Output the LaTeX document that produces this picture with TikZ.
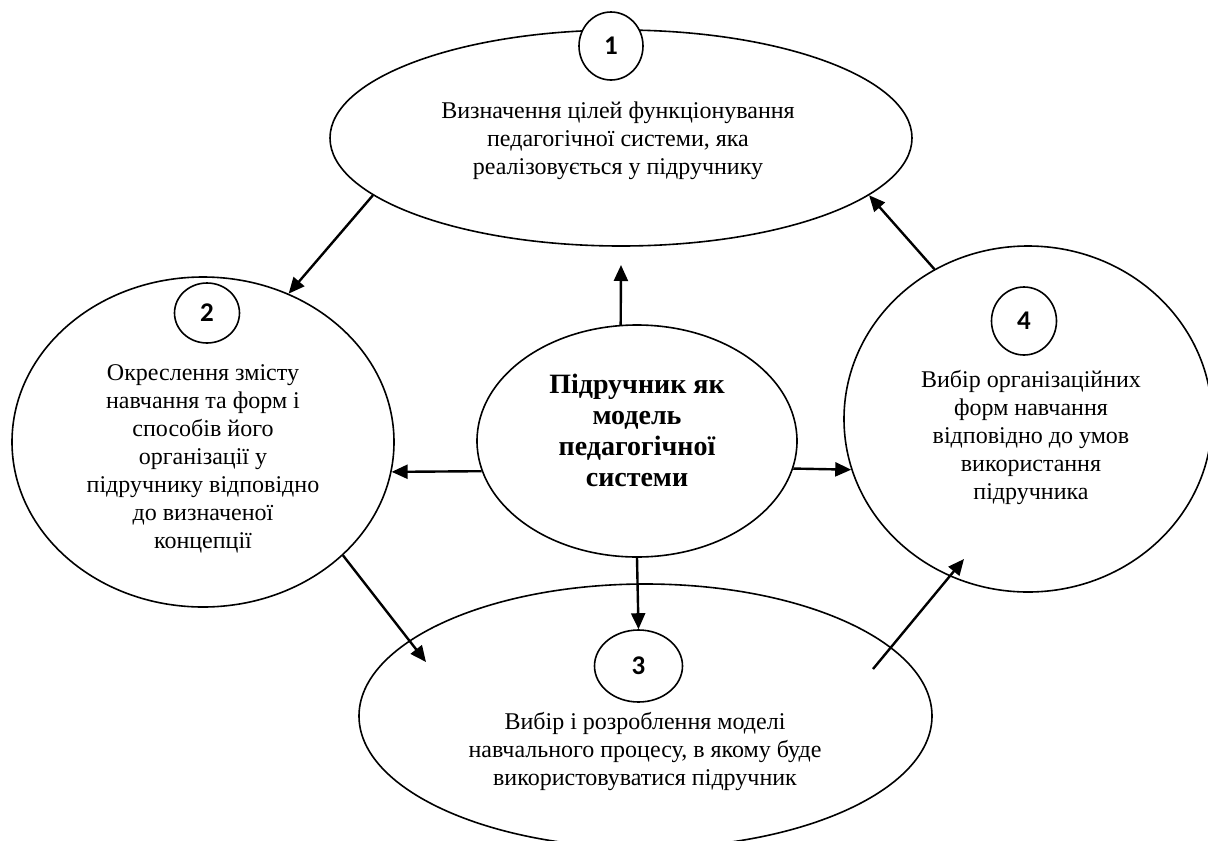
\documentclass[tikz,border=0pt]{standalone}
\usepackage{fontspec}
\setmainfont{Liberation Serif}
\newfontfamily\numfont{Carlito}
\usetikzlibrary{shapes.geometric,arrows.meta}
\begin{document}
\begin{tikzpicture}[x=1pt,y=-1pt,
  oval/.style={draw, ellipse, line width=1.6pt, inner sep=0pt},
  numoval/.style={draw, ellipse, fill=white, line width=1.6pt, inner sep=0pt, font=\numfont\bfseries\fontsize{27}{30}\selectfont},
  body/.style={align=center, font=\fontsize{24}{28}\selectfont, inner sep=0pt},
  conn/.style={line width=2.4pt, -{Triangle[length=16pt,width=14pt]}}]
\useasboundingbox (0,0) rectangle (1208,841);

\node[oval, minimum width=582pt, minimum height=216pt] (e1) at (621,138) {};
\node[oval, minimum width=382pt, minimum height=330pt] (e2) at (203,442) {};
\node[oval, minimum width=573pt, minimum height=264pt] (e3) at (645.5,716) {};
\node[oval, minimum width=368pt, minimum height=346pt] (e4) at (1028,419) {};
\node[oval, minimum width=320pt, minimum height=232pt] (c) at (637,441) {};

\node[numoval, minimum width=64pt, minimum height=68pt] (n1) at (611,46) {1};
\node[numoval, minimum width=65pt, minimum height=60pt] (n2) at (207,313) {2};
\node[numoval, minimum width=88pt, minimum height=72pt] (n3) at (638.5,666) {3};
\node[numoval, minimum width=65pt, minimum height=68pt] (n4) at (1024,321) {4};

\node[body] (t1) at (618,141) {Визначення цілей функціонування\\педагогічної системи, яка\\реалізовується у підручнику};
\node[body] (t2) at (203,459) {Окреслення змісту\\навчання та форм і\\способів його\\організації у\\підручнику відповідно\\до визначеної\\концепції};
\node[body] (t3) at (645,751) {Вибір і розроблення моделі\\навчального процесу, в якому буде\\використовуватися підручник};
\node[body] (t4) at (1031,437) {Вибір організаційних\\форм навчання\\відповідно до умов\\використання\\підручника};
\node[body, font=\bfseries\fontsize{28}{31}\selectfont] (tc) at (637,430) {Підручник як\\модель\\педагогічної\\системи};

\coordinate (upTip) at (621,265);
\coordinate (t23) at (426,662);
\coordinate (s34) at (873,669);
\coordinate (t34) at (964,559);

\draw[conn] (e1.193.7) -- (e2.60.9);
\draw[conn] (c.98.4) -- (upTip);
\draw[conn] (c.south) -- (n3.north);
\draw[conn] (c.191.4) -- (e2.-9.4);
\draw[conn] (c.-10.6) -- (e4.196.8);
\draw[conn] (e2.-39.2) -- (t23);
\draw[conn] (s34) -- (t34);
\draw[conn] (e4.122) -- (e1.-13.1);
\end{tikzpicture}
\end{document}
